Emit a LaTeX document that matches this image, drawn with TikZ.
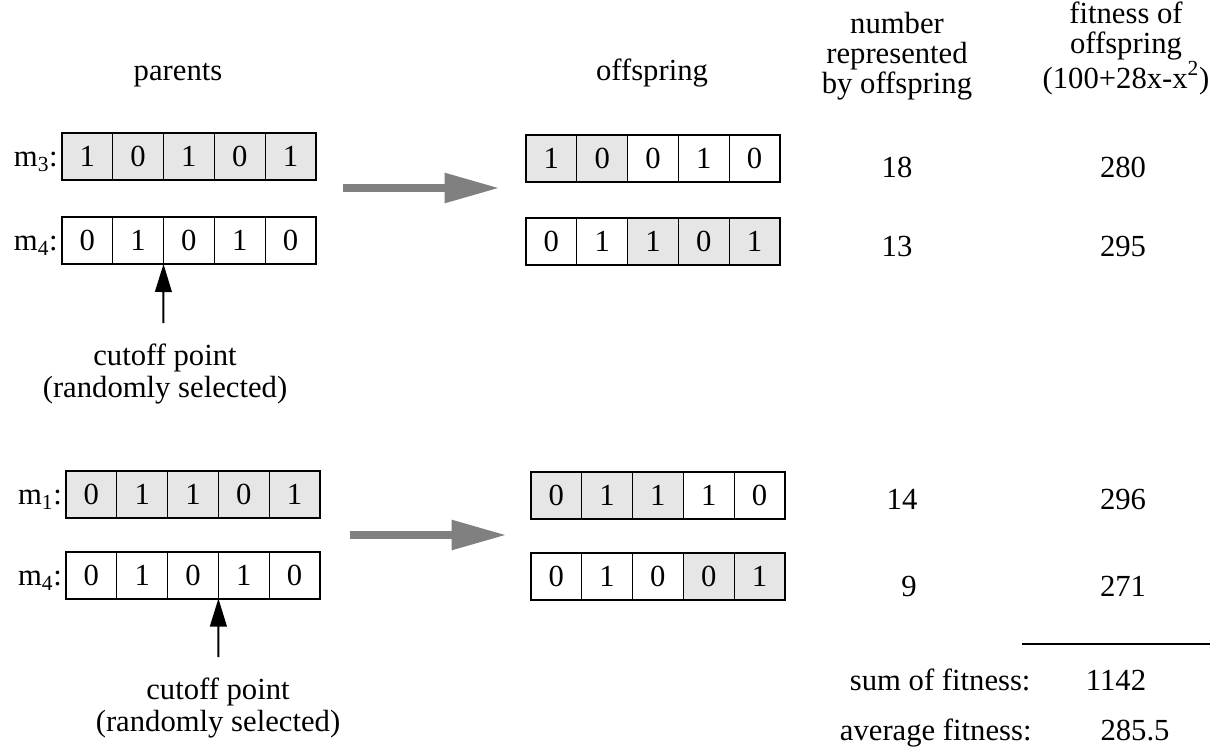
\documentclass[tikz,border=0pt]{standalone}
\usepackage{fontspec}
\setmainfont{Liberation Serif}
\usetikzlibrary{positioning,arrows.meta}
\definecolor{cellgray}{RGB}{230,230,230}
\definecolor{arrowgray}{RGB}{128,128,128}
\tikzset{every picture/.style={line width=0.75pt}}
\tikzset{
  bitwhite/.style={draw, line width=0.9pt, minimum width=38.1pt, minimum height=35.25pt, inner sep=0pt, outer sep=0pt, font=\fontsize{23}{26}\selectfont},
  bitgray/.style={bitwhite, fill=cellgray},
  rowframe/.style={line width=1.5pt},
  txt/.style={inner sep=0.75pt, font=\fontsize{23}{26}\selectfont},
  headtxt/.style={txt, align=center, font=\fontsize{23}{22.5}\selectfont},
  cuttxt/.style={txt, align=center, font=\fontsize{23}{24}\selectfont},
  cutarrow/.style={line width=1.5pt, -{Triangle[length=21pt,width=12.5pt]}},
  crossarrow/.style={draw=arrowgray, line width=6pt, -{Triangle[length=40pt,width=23pt,line width=0pt]}}
}
\begin{document}
\begin{tikzpicture}[x=0.75pt,y=0.75pt,yscale=-1,xscale=1]
\useasboundingbox (0,0) rectangle (1216,751);

% Text Node
\draw (178,80) node [txt, anchor=base] (parentshead) {parents};
% Text Node
\draw (652,80) node [txt, anchor=base] (offspringhead) {offspring};
% Text Node
\draw (897,93) node [headtxt, anchor=base] (numberhead) {number\\represented\\by offspring};
% Text Node
\draw (1126,88) node [headtxt, anchor=base] (fitnesshead) {fitness of\\offspring\\(100+28x-x\textsuperscript{2})};

%Bits: m3 (first pair)
\draw (87.3,156.5) node [bitgray] (p1c1) {1};
\node [bitgray, right=0pt of p1c1] (p1c2) {0};
\node [bitgray, right=0pt of p1c2] (p1c3) {1};
\node [bitgray, right=0pt of p1c3] (p1c4) {0};
\node [bitgray, right=0pt of p1c4] (p1c5) {1};
\draw [rowframe] (p1c1.north west) rectangle (p1c5.south east);
\node [txt, base left=2pt of p1c1] (m3lbl) {m\textsubscript{3}:};

%Bits: m4 (first pair)
\draw (87.3,240.5) node [bitwhite] (p2c1) {0};
\node [bitwhite, right=0pt of p2c1] (p2c2) {1};
\node [bitwhite, right=0pt of p2c2] (p2c3) {0};
\node [bitwhite, right=0pt of p2c3] (p2c4) {1};
\node [bitwhite, right=0pt of p2c4] (p2c5) {0};
\draw [rowframe] (p2c1.north west) rectangle (p2c5.south east);
\node [txt, base left=2pt of p2c1] (m4lbl) {m\textsubscript{4}:};

%Bits: offspring 18
\draw (551.4,158.5) node [bitgray] (o1c1) {1};
\node [bitgray, right=0pt of o1c1] (o1c2) {0};
\node [bitwhite, right=0pt of o1c2] (o1c3) {0};
\node [bitwhite, right=0pt of o1c3] (o1c4) {1};
\node [bitwhite, right=0pt of o1c4] (o1c5) {0};
\draw [rowframe] (o1c1.north west) rectangle (o1c5.south east);

%Bits: offspring 13
\draw (551.4,241) node [bitwhite] (o2c1) {0};
\node [bitwhite, right=0pt of o2c1] (o2c2) {1};
\node [bitgray, right=0pt of o2c2] (o2c3) {1};
\node [bitgray, right=0pt of o2c3] (o2c4) {0};
\node [bitgray, right=0pt of o2c4] (o2c5) {1};
\draw [rowframe] (o2c1.north west) rectangle (o2c5.south east);

%Bits: m1 (second pair)
\draw (91.4,494) node [bitgray] (p3c1) {0};
\node [bitgray, right=0pt of p3c1] (p3c2) {1};
\node [bitgray, right=0pt of p3c2] (p3c3) {1};
\node [bitgray, right=0pt of p3c3] (p3c4) {0};
\node [bitgray, right=0pt of p3c4] (p3c5) {1};
\draw [rowframe] (p3c1.north west) rectangle (p3c5.south east);
\node [txt, base left=2pt of p3c1] (m1lbl) {m\textsubscript{1}:};

%Bits: m4 (second pair)
\draw (91.4,575) node [bitwhite] (p4c1) {0};
\node [bitwhite, right=0pt of p4c1] (p4c2) {1};
\node [bitwhite, right=0pt of p4c2] (p4c3) {0};
\node [bitwhite, right=0pt of p4c3] (p4c4) {1};
\node [bitwhite, right=0pt of p4c4] (p4c5) {0};
\draw [rowframe] (p4c1.north west) rectangle (p4c5.south east);
\node [txt, base left=2pt of p4c1] (m4blbl) {m\textsubscript{4}:};

%Bits: offspring 14
\draw (556.3,495.5) node [bitgray] (o3c1) {0};
\node [bitgray, right=0pt of o3c1] (o3c2) {1};
\node [bitgray, right=0pt of o3c2] (o3c3) {1};
\node [bitwhite, right=0pt of o3c3] (o3c4) {1};
\node [bitwhite, right=0pt of o3c4] (o3c5) {0};
\draw [rowframe] (o3c1.north west) rectangle (o3c5.south east);

%Bits: offspring 9
\draw (556.3,576) node [bitwhite] (o4c1) {0};
\node [bitwhite, right=0pt of o4c1] (o4c2) {1};
\node [bitwhite, right=0pt of o4c2] (o4c3) {0};
\node [bitgray, right=0pt of o4c3] (o4c4) {0};
\node [bitgray, right=0pt of o4c4] (o4c5) {1};
\draw [rowframe] (o4c1.north west) rectangle (o4c5.south east);

%Straight Lines: crossover arrows
\coordinate (cross1s) at (343,188);
\coordinate (cross1e) at (498,188);
\draw [crossarrow] (cross1s) -- (cross1e);
\coordinate (cross2s) at (350,535);
\coordinate (cross2e) at (505,535);
\draw [crossarrow] (cross2s) -- (cross2e);

%Straight Lines: cutoff points
\coordinate (cutbase1) at (163.3,323);
\draw [cutarrow] (cutbase1) -- (p2c2.south east);
\coordinate (cutbase2) at (218.4,657);
\draw [cutarrow] (cutbase2) -- (p4c3.south east);

% Text Node
\draw (165,397) node [cuttxt, anchor=base] (cutlbl1) {cutoff point\\(randomly selected)};
% Text Node
\draw (218,731) node [cuttxt, anchor=base] (cutlbl2) {cutoff point\\(randomly selected)};

% Text Node
\draw (897,167) node [txt] (num18) {18};
\draw (1123,167) node [txt] (fit280) {280};
\draw (897,246) node [txt] (num13) {13};
\draw (1123,246) node [txt] (fit295) {295};
\draw (902,499) node [txt] (num14) {14};
\draw (1123,499) node [txt] (fit296) {296};
\draw (909,586) node [txt] (num9) {9};
\draw (1123,586) node [txt] (fit271) {271};

%Straight Lines: sum
\coordinate (sumL) at (1022,644);
\coordinate (sumR) at (1210,644);
\draw [line width=1.2pt] (sumL) -- (sumR);

% Text Node
\draw (1032,690) node [txt, anchor=base east] (sumlbl) {sum of fitness:};
\draw (1116,690) node [txt, anchor=base] (sumval) {1142};
\draw (1033,740) node [txt, anchor=base east] (avglbl) {average fitness:};
\draw (1135,740) node [txt, anchor=base] (avgval) {285.5};

\end{tikzpicture}
\end{document}
